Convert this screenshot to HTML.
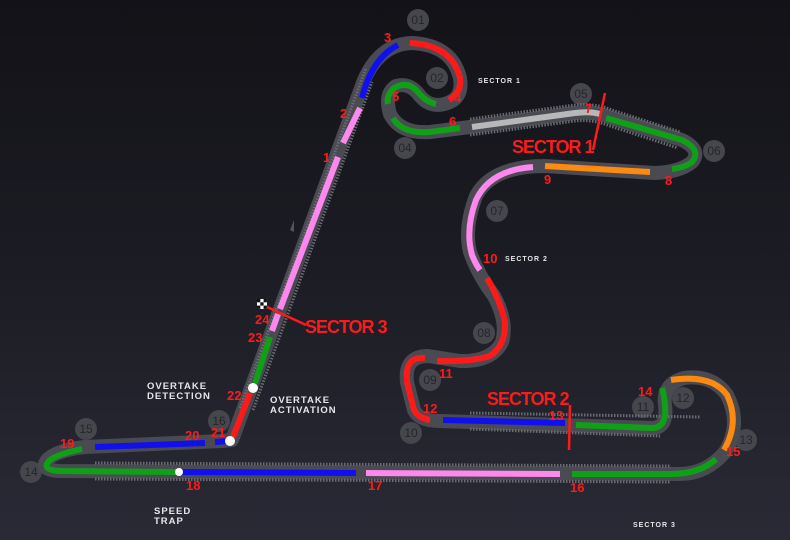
<!DOCTYPE html>
<html><head><style>
html,body{margin:0;padding:0;}
body{width:790px;height:540px;overflow:hidden;background:linear-gradient(180deg,#121217 0%,#1c1c24 50%,#2a2a36 100%);font-family:"Liberation Sans",sans-serif;}
svg{display:block}
.n{fill:#ff1a1a;font-weight:bold;font-size:13px;font-family:"Liberation Sans",sans-serif}
.c{fill:#46464d}
.ct{fill:#25252b;font-size:12px;font-family:"Liberation Sans",sans-serif;text-anchor:middle}
.w{fill:#e6e6ea;font-weight:bold;font-size:9.5px;letter-spacing:1px}
.s{fill:#ff1a1a;font-weight:bold;font-size:18px;letter-spacing:-1px}
.seg{fill:none;stroke-width:6;stroke-linecap:butt}
</style></head><body>
<svg width="790" height="540" viewBox="0 0 790 540">
<g>
<circle class="c" cx="418" cy="20" r="11"/><text class="ct" x="418" y="24">01</text>
<circle class="c" cx="437" cy="78" r="11"/><text class="ct" x="437" y="82">02</text>
<circle class="c" cx="405" cy="148" r="11"/><text class="ct" x="405" y="152">04</text>
<circle class="c" cx="581" cy="94" r="11"/><text class="ct" x="581" y="98">05</text>
<circle class="c" cx="714" cy="151" r="11"/><text class="ct" x="714" y="155">06</text>
<circle class="c" cx="497" cy="211" r="11"/><text class="ct" x="497" y="215">07</text>
<circle class="c" cx="484" cy="333" r="11"/><text class="ct" x="484" y="337">08</text>
<circle class="c" cx="430" cy="380" r="11"/><text class="ct" x="430" y="384">09</text>
<circle class="c" cx="411" cy="433" r="11"/><text class="ct" x="411" y="437">10</text>
<circle class="c" cx="643" cy="407" r="11"/><text class="ct" x="643" y="411">11</text>
<circle class="c" cx="683" cy="398" r="11"/><text class="ct" x="683" y="402">12</text>
<circle class="c" cx="746" cy="440" r="11"/><text class="ct" x="746" y="444">13</text>
<circle class="c" cx="31" cy="472" r="11"/><text class="ct" x="31" y="476">14</text>
<circle class="c" cx="86" cy="429" r="11"/><text class="ct" x="86" y="433">15</text>
<circle class="c" cx="219" cy="421" r="11"/><text class="ct" x="219" y="425">16</text>
</g>
<path id="trk" d="M232,440 L364,80 Q380,44 412,43 Q452,45 460,78 Q463,96 450,102 Q432,110 420,96 Q410,82 396,86 Q384,94 390,114 Q400,134 430,132 L470,127 L575,113 Q595,111 612,118 L682,140 Q702,150 692,162 Q680,172 655,173 L545,166 Q492,166 476,196 Q464,228 470,252 Q478,275 494,296 Q508,322 502,342 Q492,362 460,361 L428,356 Q404,356 407,382 L414,410 Q419,421 440,421 L652,428 Q668,428 665,405 Q662,384 684,378 Q712,374 727,395 Q742,424 725,452 Q706,474 680,474 L60,471 Q38,470 48,459 Q58,450 85,447 L222,441 Z"
 fill="none" stroke="#4a4a52" stroke-width="14" stroke-linejoin="round"/>
<g stroke="#6a6a72" stroke-width="3" stroke-dasharray="1.5 1.5" fill="none">
<path d="M240,408 L366,68"/><path d="M253,410 L372,82"/>
<path d="M470,119 L575,105 Q595,103 612,110 L680,132"/><path d="M470,135 L575,121 Q593,119 610,126 L678,148"/>
<path d="M470,413 L700,417"/><path d="M470,429 L660,436"/>
<path d="M95,463 L670,466"/><path d="M95,479 L670,482"/>
</g>
<g class="seg">
<path stroke="#ff1a1a" d="M233,437 L250,393"/>
<path stroke="#0fa018" d="M255,383 L270,337"/>
<path stroke="#ff88ee" d="M272,331 L278,314"/>
<path stroke="#ff88ee" d="M280,309 L338,157"/>
<path stroke="#ff88ee" d="M343,143 L360,108"/>
<path stroke="#1010ee" d="M362,98 Q372,58 398,45"/>
<path stroke="#ff1a1a" d="M410,43 Q452,45 460,78 Q462,92 449,100"/>
<path stroke="#0fa018" d="M436,104 Q426,102 418,92 Q408,80 394,88 Q386,96 388,104"/>
<path stroke="#0fa018" d="M393,118 Q402,134 430,132 L460,128"/>
<path stroke="#b8b8b8" d="M472,127 L575,113 Q590,111 600,114"/>
<path stroke="#0fa018" d="M606,118 L682,140 Q702,150 692,162 Q686,167 672,169"/>
<path stroke="#ff8a10" d="M650,172 L545,166"/>
<path stroke="#ff88ee" d="M533,167 Q490,170 476,200 Q465,230 472,255 Q476,265 480,270"/>
<path stroke="#ff1a1a" d="M487,278 Q500,300 505,322 Q506,345 490,356 Q470,362 437,361"/>
<path stroke="#ff1a1a" d="M425,358 Q404,356 407,382 L414,410 Q418,418 430,420"/>
<path stroke="#1010ee" d="M443,420 L565,423"/>
<path stroke="#0fa018" d="M576,425 L652,428 Q667,428 665,405 Q664,395 662,388"/>
<path stroke="#ff8a10" d="M671,380 Q712,374 727,395 Q740,422 724,450"/>
<path stroke="#0fa018" d="M716,459 Q700,474 670,474 L572,474"/>
<path stroke="#ff88ee" d="M560,474 L366,473"/>
<path stroke="#1010ee" d="M356,473 L180,472"/>
<path stroke="#0fa018" d="M176,472 L60,471 Q40,470 50,460 Q58,454 82,449"/>
<path stroke="#1010ee" d="M95,447 L205,443"/>
<path stroke="#1010ee" d="M215,442 L228,441"/>
</g>
<circle cx="230" cy="441" r="5" fill="#fff"/>
<circle cx="253" cy="388" r="5" fill="#fff"/>
<circle cx="179" cy="472" r="4" fill="#fff"/>
<line x1="605" y1="93" x2="593" y2="150" stroke="#ff1a1a" stroke-width="2.5"/>
<line x1="570" y1="405" x2="569" y2="450" stroke="#ff1a1a" stroke-width="2.5"/>
<line x1="265" y1="306" x2="306" y2="325" stroke="#ff1a1a" stroke-width="2.5"/>
<g transform="translate(257,299)"><rect width="10" height="10" fill="#fff"/><rect width="3.3" height="3.3" fill="#111"/><rect x="6.6" width="3.3" height="3.3" fill="#111"/><rect x="3.3" y="3.3" width="3.3" height="3.3" fill="#111"/><rect y="6.6" width="3.3" height="3.3" fill="#111"/><rect x="6.6" y="6.6" width="3.3" height="3.3" fill="#111"/></g>
<polygon points="290,230 294,220 294,232" fill="#555"/>
<text class="n" x="384" y="42">3</text>
<text class="n" x="454" y="102">4</text>
<text class="n" x="392" y="101">5</text>
<text class="n" x="449" y="126">6</text>
<text class="n" x="585" y="113">7</text>
<text class="n" x="665" y="185">8</text>
<text class="n" x="544" y="184">9</text>
<text class="n" x="483" y="263">10</text>
<text class="n" x="439" y="378">11</text>
<text class="n" x="423" y="413">12</text>
<text class="n" x="549" y="420">13</text>
<text class="n" x="638" y="396">14</text>
<text class="n" x="726" y="456">15</text>
<text class="n" x="570" y="492">16</text>
<text class="n" x="368" y="490">17</text>
<text class="n" x="186" y="490">18</text>
<text class="n" x="60" y="448">19</text>
<text class="n" x="185" y="440">20</text>
<text class="n" x="211" y="437">21</text>
<text class="n" x="227" y="400">22</text>
<text class="n" x="248" y="342">23</text>
<text class="n" x="255" y="324">24</text>
<text class="n" x="323" y="162">1</text>
<text class="n" x="340" y="118">2</text>
<text class="s" x="512" y="153">SECTOR 1</text>
<text class="s" x="487" y="405">SECTOR 2</text>
<text class="s" x="305" y="333">SECTOR 3</text>
<text class="w" x="478" y="83" style="font-size:7px">SECTOR 1</text>
<text class="w" x="505" y="261" style="font-size:7px">SECTOR 2</text>
<text class="w" x="633" y="527" style="font-size:7px">SECTOR 3</text>
<text class="w" x="147" y="389">OVERTAKE</text>
<text class="w" x="147" y="399">DETECTION</text>
<text class="w" x="270" y="403">OVERTAKE</text>
<text class="w" x="270" y="413">ACTIVATION</text>
<text class="w" x="154" y="514">SPEED</text>
<text class="w" x="154" y="524">TRAP</text>
</svg>
</body></html>
